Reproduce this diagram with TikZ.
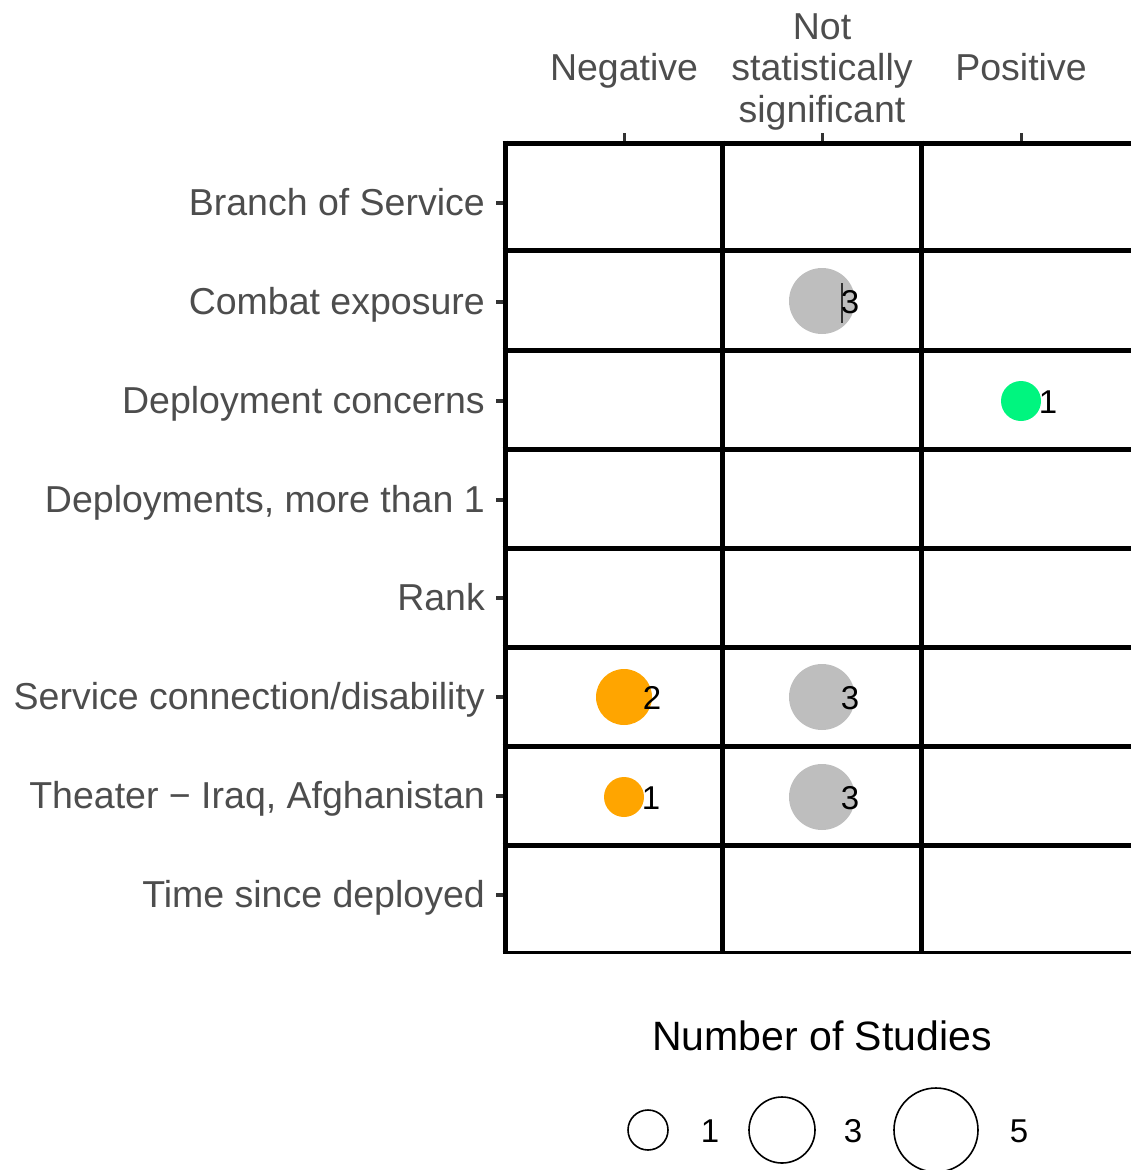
\documentclass[tikz,border=0pt]{standalone}
\usepackage{fontspec}
\setmainfont{Liberation Sans}
\usetikzlibrary{positioning}
\definecolor{axisgray}{HTML}{4D4D4D}
\definecolor{tickgray}{HTML}{333333}
\definecolor{dotgray}{HTML}{BEBEBE}
\definecolor{dotorange}{HTML}{FFA500}
\definecolor{dotgreen}{HTML}{00F57F}

\begin{document}
\begin{tikzpicture}[x=1pt,y=-1pt,
  ylab/.style={anchor=east,inner sep=0pt,text height=25pt,text depth=0pt,
    text=axisgray,font=\fontsize{37.5}{44}\selectfont},
  xlab/.style={anchor=base,inner sep=0pt,align=center,
    text=axisgray,font=\fontsize{37.5}{41.5}\selectfont},
  cell line/.style={line width=5pt},
  axis tick/.style={line width=3pt,tickgray},
  dot/.style={circle,inner sep=0pt,minimum size=#1},
  count/.style={inner sep=0pt,text height=24pt,text depth=0pt,
    font=\fontsize{33}{40}\selectfont},
  key/.style={circle,draw,line width=1.6pt,inner sep=0pt,minimum size=#1}]
  \useasboundingbox (0,0) rectangle (1131,1170);
  % grid
  \foreach \y in {143,250,350,449,548,647,746,845}
    \draw[cell line] (502.5,\y) -- (1131,\y);
  \draw[line width=3pt] (502.5,952) -- (1131,952);
  \foreach \x in {505,722,921}
    \draw[cell line] (\x,140.5) -- (\x,953.5);
  % column heads
  \node[xlab] (c1) at (624,80) {Negative};
  \node[xlab,anchor=north] (c2) at (822,13) {Not\\statistically\\significant};
  \node[xlab] (c3) at (1021,80) {Positive};
  \foreach \x in {624,822,1021}
    \draw[axis tick] (\x,133) -- (\x,140.5);
  % row labels
  \foreach \lab [count=\i, evaluate=\i as \y using 203+(\i-1)*98.86] in
      {Branch of Service, Combat exposure, Deployment concerns,
       {Deployments, more than 1}, Rank, Service connection/disability,
       {Theater − Iraq, Afghanistan}, Time since deployed} {
    \node[ylab] (r\i) at (485,\y) {\lab};
    \draw[axis tick,line width=4pt] (496,\y) -- (502.5,\y);
  }
  % dots
  \node[dot=66pt,fill=dotgray] (d1) at (822,301) {};
  \node[dot=40pt,fill=dotgreen] (d2) at (1021,401) {};
  \node[dot=56pt,fill=dotorange] (d3) at (624,697) {};
  \node[dot=66pt,fill=dotgray] (d4) at (822,697) {};
  \node[dot=40pt,fill=dotorange] (d5) at (624,797) {};
  \node[dot=66pt,fill=dotgray] (d6) at (822,797) {};
  \coordinate (s1) at (842,283);
  \coordinate (s2) at (842,323);
  \draw[line width=1.5pt,tickgray] (s1) -- (s2);
  \node[count] (n1) at ([xshift=28pt]d1.center) {3};
  \node[count] (n2) at ([xshift=27pt]d2.center) {1};
  \node[count] (n3) at ([xshift=28pt]d3.center) {2};
  \node[count] (n4) at ([xshift=28pt]d4.center) {3};
  \node[count] (n5) at ([xshift=27pt]d5.center) {1};
  \node[count] (n6) at ([xshift=28pt]d6.center) {3};
  % legend
  \node[anchor=base,inner sep=0pt,font=\fontsize{41}{48}\selectfont]
    (keytitle) at (822,1050) {Number of Studies};
  \node[key=40pt] (k1) at (648,1130) {};
  \node[key=66pt] (k3) at (782,1130) {};
  \node[key=84pt] (k5) at (936,1130) {};
  \node[count] (l1) at (710,1130) {1};
  \node[count] (l3) at (853,1130) {3};
  \node[count] (l5) at (1019,1130) {5};
\end{tikzpicture}
\end{document}
